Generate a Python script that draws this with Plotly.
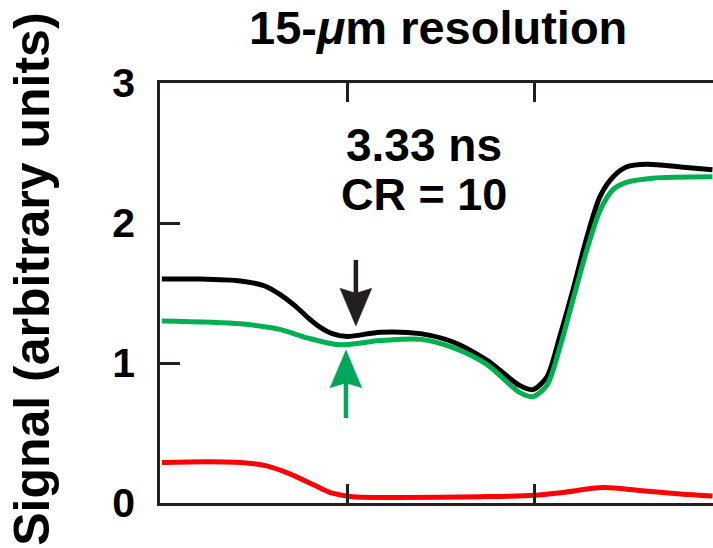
import plotly.graph_objects as go

# Signal profiles along the line-out (position in axis units, signal in arbitrary units)
black_x = [0.01, 0.21, 0.43, 0.56, 0.64, 0.72, 0.785, 0.85, 0.92, 1.0, 1.175, 1.39, 1.565, 1.745,
           1.92, 1.99, 2.066, 2.135, 2.205, 2.28, 2.35, 2.42, 2.49, 2.60, 2.78, 2.95]
black_y = [1.60, 1.60, 1.586, 1.55, 1.49, 1.41, 1.33, 1.26, 1.21, 1.19, 1.22, 1.21, 1.15, 1.02,
           0.84, 0.81, 0.90, 1.19, 1.52, 1.90, 2.19, 2.33, 2.40, 2.42, 2.40, 2.38]

green_x = [0.01, 0.43, 0.64, 0.785, 0.96, 1.175, 1.39, 1.565, 1.745, 1.92, 1.99, 2.066,
           2.135, 2.205, 2.28, 2.35, 2.42, 2.49, 2.63, 2.95]
green_y = [1.30, 1.28, 1.24, 1.18, 1.13, 1.16, 1.17, 1.11, 0.99, 0.79, 0.76, 0.84,
           1.11, 1.45, 1.81, 2.09, 2.24, 2.29, 2.32, 2.33]

red_x = [0.01, 0.25, 0.43, 0.57, 0.69, 0.82, 0.92, 1.03, 1.28, 1.71, 2.0, 2.15,
         2.365, 2.56, 2.78, 2.95]
red_y = [0.29, 0.295, 0.29, 0.265, 0.21, 0.13, 0.07, 0.045, 0.04, 0.045, 0.055, 0.075,
         0.11, 0.09, 0.065, 0.05]

# Arrow markers: x position, tail and tip heights (data units)
black_arrow = {"x": 1.046, "tail": 1.736, "tip": 1.264}
green_arrow = {"x": 0.993, "tail": 0.607, "tip": 1.093}

y_ticks = [0, 1, 2, 3]
x_ticks = [1, 2]

BLACK = "#000000"
GREEN = "#00b050"
GREEN_ARROW = "#00a65a"
RED = "#ff0000"
AXIS = "#231f20"
FONT = "Liberation Sans"

fig = go.Figure()

fig.add_trace(go.Scatter(x=red_x, y=red_y, mode="lines",
                         line=dict(color=RED, width=5, shape="spline", smoothing=0.8)))
fig.add_trace(go.Scatter(x=black_x, y=black_y, mode="lines",
                         line=dict(color=BLACK, width=5, shape="spline", smoothing=0.8)))
fig.add_trace(go.Scatter(x=green_x, y=green_y, mode="lines",
                         line=dict(color=GREEN, width=5, shape="spline", smoothing=0.8)))


def add_arrow(fig, arrow, color):
    head_len = 0.27
    half_w = 0.085
    notch = 0.035
    direction = 1 if arrow["tip"] > arrow["tail"] else -1
    base = arrow["tip"] - direction * head_len
    x0 = arrow["x"]
    fig.add_trace(go.Scatter(x=[x0, x0], y=[arrow["tail"], base + direction * notch],
                             mode="lines", line=dict(color=color, width=4.5)))
    fig.add_trace(go.Scatter(
        x=[x0 - half_w, x0, x0 + half_w, x0, x0 - half_w],
        y=[base, arrow["tip"], base, base + direction * notch, base],
        mode="lines", fill="toself", fillcolor=color,
        line=dict(color=color, width=0.5)))


add_arrow(fig, black_arrow, "#231f20")
add_arrow(fig, green_arrow, GREEN_ARROW)

fig.add_annotation(x=1.41, y=2.557, xref="x", yref="y", text="3.33 ns", showarrow=False,
                   font=dict(family=FONT, size=46, color=BLACK, weight="bold"),
                   xanchor="center", yanchor="middle")
fig.add_annotation(x=1.41, y=2.207, xref="x", yref="y", text="CR = 10", showarrow=False,
                   font=dict(family=FONT, size=45, color=BLACK, weight="bold"),
                   xanchor="center", yanchor="middle")

# Title and vertical axis label
fig.add_annotation(x=0.503, y=1.131, xref="paper", yref="paper",
                   text="15-<i>μ</i>m resolution", showarrow=False,
                   font=dict(family=FONT, size=47, color=BLACK, weight="bold"),
                   xanchor="center", yanchor="middle")
fig.add_annotation(x=-0.232, y=0.533, xref="paper", yref="paper",
                   text="Signal (arbitrary units)", showarrow=False, textangle=-90,
                   font=dict(family=FONT, size=50, color=BLACK, weight="bold"),
                   xanchor="center", yanchor="middle")

fig.update_layout(
    width=713, height=548,
    margin=dict(l=160, r=0, t=83, b=45),
    paper_bgcolor="white", plot_bgcolor="white",
    showlegend=False,
    xaxis=dict(range=[0, 2.953], showgrid=False, zeroline=False,
               showline=True, linecolor=AXIS, linewidth=2.5, mirror="ticks",
               ticks="inside", ticklen=19, tickwidth=2.5, tickcolor=AXIS,
               tickvals=x_ticks, showticklabels=False),
    yaxis=dict(range=[0, 3], showgrid=False, zeroline=False,
               showline=True, linecolor=AXIS, linewidth=2.5,
               ticks="inside", ticklen=20, tickwidth=2.5, tickcolor=AXIS,
               tickvals=y_ticks, ticktext=[str(v) for v in y_ticks],
               ticklabelstandoff=14,
               tickfont=dict(family=FONT, size=41, color=BLACK, weight="bold")),
)

fig.write_html("out.html")
